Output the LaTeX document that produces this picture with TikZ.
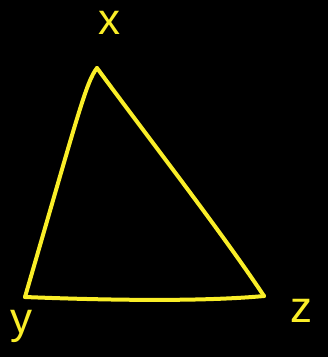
\documentclass[tikz,border=0pt]{standalone}
\usepackage{fontspec}
\setmainfont{Liberation Sans}
\definecolor{penyellow}{RGB}{250,238,40}
\tikzset{
  side/.style={penyellow, line width=4pt, line cap=round, line join=round},
  vlabel/.style={text=penyellow, inner sep=0pt, font=\fontsize{44}{44}\selectfont}
}
\begin{document}
\begin{tikzpicture}[x=1pt,y=-1pt]
	% background
	\fill[black] (0,0) rectangle (328,357);
	\useasboundingbox (0,0) rectangle (328,357);
	% vertices
	\coordinate (X) at (97,68);
	\coordinate (Y) at (25,297);
	\coordinate (Z) at (264,296);
	% sides of the triangle
	\draw[side] (X) .. controls (86,82) and (78,115) .. (Y);
	\draw[side] (X) .. controls (150,140) and (220,230) .. (Z);
	\draw[side] (Y) .. controls (100,300) and (200,302) .. (Z);
	% labels
	\node[vlabel] (lx) at (109,23) {x};
	\node[vlabel] (ly) at (22,326) {y};
	\node[vlabel] (lz) at (301,311) {z};
\end{tikzpicture}
\end{document}
